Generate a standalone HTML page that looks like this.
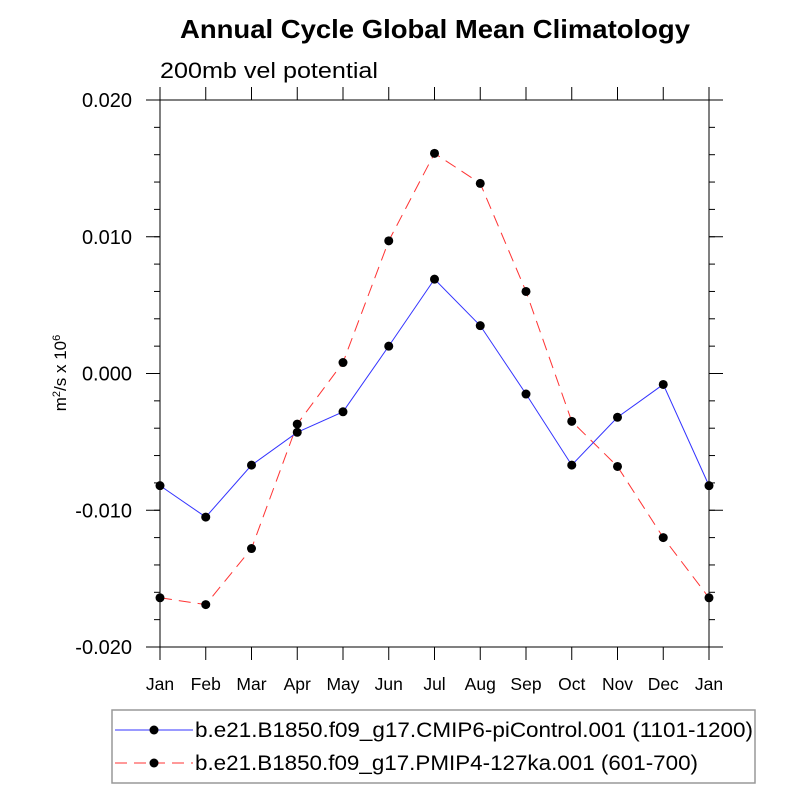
<!DOCTYPE html>
<html><head><meta charset="utf-8"><style>
body{margin:0;background:#fff}
svg text{font-family:"Liberation Sans",Arial,sans-serif;fill:#000}
</style></head><body>
<svg id="c" width="800" height="800" viewBox="0 0 800 800">
<text x="180" y="38" font-size="26" font-weight="bold" textLength="510" lengthAdjust="spacingAndGlyphs">Annual Cycle Global Mean Climatology</text>
<text x="160" y="78" font-size="22" textLength="218" lengthAdjust="spacingAndGlyphs">200mb vel potential</text>
<text transform="translate(66,373) rotate(-90)" font-size="17" text-anchor="middle">m<tspan dy="-6" font-size="11">2</tspan><tspan dy="6">/s x 10</tspan><tspan dy="-6" font-size="11">6</tspan></text>
<g id="axes"></g>
<g id="series"></g>
<rect x="112" y="710" width="643" height="73" fill="none" stroke="#999" stroke-width="1.5"/>
<g>
<line x1="115" y1="730" x2="193" y2="730" stroke="#3333ff" stroke-width="1"/>
<circle cx="154" cy="730" r="4.5" fill="#000"/>
<text x="195" y="737" font-size="21" textLength="558" lengthAdjust="spacingAndGlyphs">b.e21.B1850.f09_g17.CMIP6-piControl.001 (1101-1200)</text>
</g>
<g>
<line x1="115" y1="763" x2="193" y2="763" stroke="#ff3333" stroke-width="1" stroke-dasharray="12,7"/>
<circle cx="154" cy="763" r="4.5" fill="#000"/>
<text x="195" y="770" font-size="21" textLength="503" lengthAdjust="spacingAndGlyphs">b.e21.B1850.f09_g17.PMIP4-127ka.001 (601-700)</text>
</g>
</svg>
<script>
const months=["Jan","Feb","Mar","Apr","May","Jun","Jul","Aug","Sep","Oct","Nov","Dec","Jan"];
const piControl=[-0.0082,-0.0105,-0.0067,-0.0043,-0.0028,0.0020,0.0069,0.0035,-0.0015,-0.0067,-0.0032,-0.0008,-0.0082];
const pmip127ka=[-0.0164,-0.0169,-0.0128,-0.0037,0.0008,0.0097,0.0161,0.0139,0.0060,-0.0035,-0.0068,-0.0120,-0.0164];
const yTicks=[-0.02,-0.01,0,0.01,0.02];
const yTickLabels=["-0.020","-0.010","0.000","0.010","0.020"];
const NS="http://www.w3.org/2000/svg";
const L=160,R=709,T=100,B=647,ymin=-0.02,ymax=0.02;
const xs=i=>L+i*(R-L)/(months.length-1);
const ys=v=>B-(v-ymin)/(ymax-ymin)*(B-T);
function mk(tag,attrs,parent){const e=document.createElementNS(NS,tag);for(const k in attrs)e.setAttribute(k,attrs[k]);parent.appendChild(e);return e;}
const ax=document.getElementById('axes');
const fr=mk('rect',{x:L,y:T,width:R-L,height:B-T,fill:'none',stroke:'#000','stroke-width':1},ax);


months.forEach((m,i)=>{
  const x=xs(i);
  mk('line',{x1:x,y1:B,x2:x,y2:B+13,stroke:'#000'},ax);
  mk('line',{x1:x,y1:T,x2:x,y2:T-13,stroke:'#000'},ax);
  const t=mk('text',{x:x,y:B+43,'font-size':17.5,'text-anchor':'middle'},ax);
  t.textContent=m;
  
  
});
for(let v=ymin;v<=ymax+1e-9;v+=0.002){
  const y=ys(v);
  mk('line',{x1:L,y1:y,x2:L-6,y2:y,stroke:'#000'},ax);
  mk('line',{x1:R,y1:y,x2:R+6,y2:y,stroke:'#000'},ax);
}
yTicks.forEach((v,i)=>{
  const y=ys(v);
  mk('line',{x1:L,y1:y,x2:L-14,y2:y,stroke:'#000'},ax);
  mk('line',{x1:R,y1:y,x2:R+14,y2:y,stroke:'#000'},ax);
  const t=mk('text',{x:L-28,y:y+7,'font-size':20,'text-anchor':'end'},ax);
  t.textContent=yTickLabels[i];
  
  
});
const sg=document.getElementById('series');
function series(vals,color,dash,name){
  const g=mk('g',{},sg);
  
  
  const pl=mk('polyline',{points:vals.map((v,i)=>xs(i)+','+ys(v)).join(' '),fill:'none',stroke:color,'stroke-width':1},g);
  if(dash)pl.setAttribute('stroke-dasharray',dash);
  vals.forEach((v,i)=>{
    const c=mk('circle',{cx:xs(i),cy:ys(v),r:4.5,fill:'#000'},g);
    
    
  });
}
series(pmip127ka,'#ff3333','12,7','series-127ka');
series(piControl,'#3333ff',null,'series-picontrol');
</script>
</body></html>
